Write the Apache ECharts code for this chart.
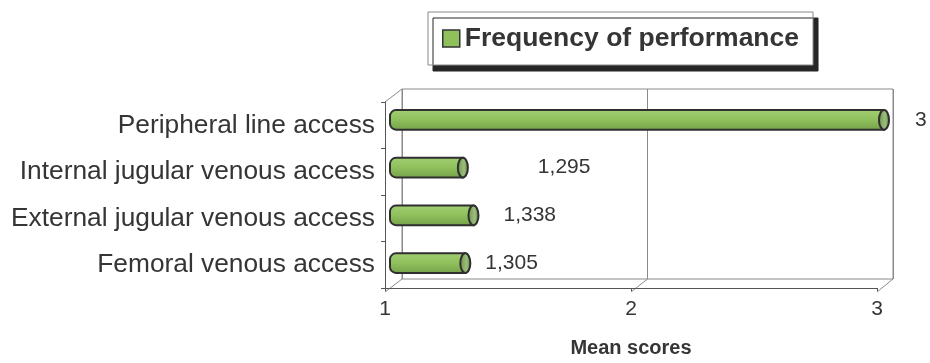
<!DOCTYPE html>
<html>
<head>
<meta charset="utf-8">
<script src="https://cdn.jsdelivr.net/npm/echarts@6/dist/echarts.min.js"></script>
<style>
  html, body { margin: 0; padding: 0; background: #fff; }
  #chart { width: 930px; height: 363px; }
</style>
</head>
<body>
<div id="chart"></div>
<script>
const categories = ['Peripheral line access', 'Internal jugular venous access', 'External jugular venous access', 'Femoral venous access']
const meanScores = [3, 1.295, 1.338, 1.305]
const seriesName = 'Frequency of performance'

const FONT = '"Liberation Sans", Arial, sans-serif'
const TEXT = '#353535'
// gap between bar end and its value label (as in the original)
const labelGaps = [26, 70, 25, 15]

// three grids: front axes, back wall, bars in between
const front = { left: 385, right: 53, top: 102, bottom: 71 }
const back = { left: 402, right: 37, top: 89, bottom: 84 }
const bars = { left: 390, right: 46, top: 96, bottom: 76 }

function fmt(v) {
  return Number.isInteger(v) ? String(v) : String(v).replace('.', ',')
}

function renderBar(params, api) {
  const idx = params.dataIndex
  const cat = api.value(1)
  const start = api.coord([1, cat])
  const end = api.coord([api.value(0), cat])
  const h = api.size([0, 1])[1] * 0.41
  const cy = start[1]
  const rx = 5
  return {
    type: 'group',
    children: [
      {
        type: 'rect',
        shape: { x: start[0], y: cy - h / 2, width: end[0] - start[0], height: h, r: [6, 0, 0, 6] },
        style: {
          fill: new echarts.graphic.LinearGradient(0, 0, 0, 1, [
            { offset: 0, color: '#a3cf74' },
            { offset: 0.5, color: '#8fc05c' },
            { offset: 1, color: '#74a049' }
          ]),
          stroke: '#2f2f2f',
          lineWidth: 2
        }
      },
      {
        type: 'ellipse',
        shape: { cx: end[0], cy: cy, rx: rx, ry: h / 2 },
        style: {
          fill: new echarts.graphic.LinearGradient(0, 0, 1, 0, [
            { offset: 0, color: '#6c8f47' },
            { offset: 0.6, color: '#9cbf7c' },
            { offset: 1, color: '#5d7c3d' }
          ]),
          stroke: '#2f2f2f',
          lineWidth: 2
        }
      },
      {
        type: 'text',
        style: {
          x: end[0] + rx + labelGaps[idx],
          y: cy,
          text: fmt(api.value(0)),
          fill: TEXT,
          font: '21px ' + FONT,
          verticalAlign: 'middle',
          align: 'left'
        }
      }
    ]
  }
}

const chart = echarts.init(document.getElementById('chart'))

chart.setOption({
  animation: false,
  textStyle: { fontFamily: FONT },
  legend: {
    left: 428,
    top: 12,
    padding: [13, 14, 13, 14],
    backgroundColor: '#fff',
    borderColor: '#888',
    borderWidth: 1,
    shadowColor: '#262626',
    shadowBlur: 0,
    shadowOffsetX: 5,
    shadowOffsetY: 6,
    itemWidth: 17,
    itemHeight: 17,
    selectedMode: false,
    textStyle: { fontSize: 26.5, fontWeight: 'bold', color: TEXT, fontFamily: FONT },
    data: [{
      name: seriesName,
      icon: 'rect',
      itemStyle: { color: '#8fc05c', borderColor: '#333', borderWidth: 1.5 }
    }]
  },
  grid: [
    Object.assign({}, front),
    Object.assign({ show: true, borderColor: '#8a8a8a', borderWidth: 1 }, back),
    Object.assign({}, bars)
  ],
  xAxis: [
    {
      gridIndex: 0,
      type: 'value',
      min: 1,
      max: 3,
      interval: 1,
      name: 'Mean scores',
      nameLocation: 'middle',
      nameGap: 50,
      nameTextStyle: { fontSize: 20, fontWeight: 'bold', color: TEXT },
      axisLine: { show: true, lineStyle: { color: '#555', width: 1 } },
      axisTick: { show: true, length: 3, lineStyle: { color: '#555' } },
      axisLabel: { fontSize: 21, color: TEXT, margin: 11 },
      splitLine: { show: false }
    },
    {
      gridIndex: 1,
      type: 'value',
      min: 1,
      max: 3,
      interval: 1,
      axisLine: { show: false },
      axisTick: { show: false },
      axisLabel: { show: false },
      splitLine: { show: true, lineStyle: { color: '#8a8a8a', width: 1 } }
    },
    {
      gridIndex: 2,
      type: 'value',
      min: 1,
      max: 3,
      show: false
    }
  ],
  yAxis: [
    {
      gridIndex: 0,
      type: 'category',
      inverse: true,
      data: categories,
      axisLine: { show: true, lineStyle: { color: '#555', width: 1 } },
      axisTick: { show: true, length: 4, lineStyle: { color: '#555' } },
      axisLabel: { fontSize: 26.3, color: TEXT, margin: 10 },
      splitLine: { show: false }
    },
    {
      gridIndex: 1,
      type: 'value',
      show: false,
      splitLine: { show: false }
    },
    {
      gridIndex: 2,
      type: 'category',
      inverse: true,
      data: categories,
      show: false
    }
  ],
  series: [{
    name: seriesName,
    type: 'custom',
    xAxisIndex: 2,
    yAxisIndex: 2,
    itemStyle: { color: '#8fc05c' },
    renderItem: renderBar,
    encode: { x: 0, y: 1 },
    data: meanScores.map((v, i) => [v, i]),
    z: 5
  }]
})

// slanted edges joining the front axes to the back wall
const H = chart.getHeight()
const fBottom = H - front.bottom
const bBottom = H - back.bottom
const edges = [1, 2, 3].map(v => {
  const fx = chart.convertToPixel({ xAxisIndex: 0 }, v)
  const bx = chart.convertToPixel({ xAxisIndex: 1 }, v)
  return { type: 'line', shape: { x1: fx, y1: fBottom, x2: bx, y2: bBottom } }
})
edges.push({ type: 'line', shape: { x1: front.left, y1: front.top, x2: back.left, y2: back.top } })
chart.setOption({
  graphic: edges.map(e => Object.assign(e, { silent: true, style: { stroke: '#8a8a8a', lineWidth: 1 } }))
})
</script>
</body>
</html>
